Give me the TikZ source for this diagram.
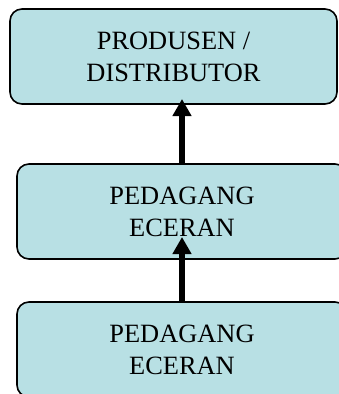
\documentclass[tikz,border=0pt]{standalone}
\usepackage{fontspec}
\setmainfont{Liberation Serif}
\usetikzlibrary{arrows.meta}
\definecolor{boxfill}{RGB}{184,224,228}
\tikzset{
  stagebox/.style={draw=black, line width=1.6pt, fill=boxfill, rounded corners=12pt,
    rectangle, minimum height=95pt, inner sep=0pt, align=center,
    font=\fontsize{26.4}{32}\selectfont},
  uparrow/.style={line width=6pt, -{Triangle[length=17pt,width=18pt]}}
}
\begin{document}
\begin{tikzpicture}[x=1pt,y=-1pt]
\useasboundingbox (0,0) rectangle (339,394);
\clip (0,0) rectangle (339,394);
\node[stagebox, minimum width=327pt] (b1) at (173.5,56.5) {PRODUSEN /\\DISTRIBUTOR};
\node[stagebox, minimum width=330pt] (b2) at (182,211.5) {PEDAGANG\\ECERAN};
\node[stagebox, minimum width=330pt] (b3) at (182,349.5) {PEDAGANG\\ECERAN};
\coordinate (t1) at (182,99);
\coordinate (t2) at (182,237);
\draw[uparrow] (b2.north) -- (t1);
\draw[uparrow] (b3.north) -- (t2);
\end{tikzpicture}
\end{document}
